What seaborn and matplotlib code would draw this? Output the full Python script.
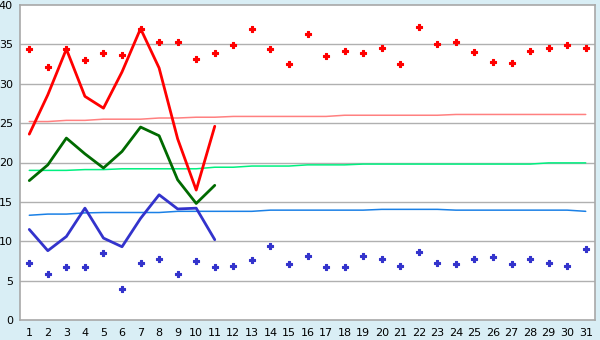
import numpy as np
import pandas as pd
import matplotlib
matplotlib.use("Agg")
import matplotlib.pyplot as plt
import seaborn as sns

days = list(range(1, 32))

max_temp = [23.6, 28.6, 34.4, 28.4, 26.9, 31.5, 37.0, 32.0, 23.0, 16.5, 24.6]
mean_temp = [17.7, 19.7, 23.1, 21.1, 19.3, 21.4, 24.5, 23.4, 17.8, 14.8, 17.1]
min_temp = [11.5, 8.8, 10.6, 14.2, 10.4, 9.3, 12.9, 15.9, 14.1, 14.2, 10.2]

record_high = [34.4, 32.1, 34.4, 33.0, 33.9, 33.6, 37.0, 35.3, 35.3, 33.1,
               33.9, 34.9, 37.0, 34.4, 32.5, 36.3, 33.5, 34.1, 33.9, 34.5,
               32.5, 37.2, 35.1, 35.3, 34.0, 32.7, 32.6, 34.1, 34.6, 34.9, 34.5]
record_low = [7.2, 5.8, 6.7, 6.7, 8.5, 3.9, 7.2, 7.8, 5.8, 7.5,
              6.7, 6.9, 7.6, 9.4, 7.1, 8.1, 6.7, 6.7, 8.1, 7.8,
              6.8, 8.6, 7.3, 7.1, 7.8, 8.0, 7.1, 7.7, 7.3, 6.9, 9.0]

avg_max = [25.2, 25.2, 25.35, 25.35, 25.5, 25.5, 25.5, 25.65, 25.65, 25.75,
           25.75, 25.85, 25.85, 25.85, 25.85, 25.85, 25.85, 26.0, 26.0, 26.0,
           26.0, 26.0, 26.0, 26.1, 26.1, 26.1, 26.1, 26.1, 26.1, 26.1, 26.1]
avg_mean = [19.0, 19.0, 19.0, 19.1, 19.1, 19.2, 19.2, 19.2, 19.2, 19.2,
            19.4, 19.4, 19.55, 19.55, 19.55, 19.7, 19.7, 19.7, 19.8, 19.8,
            19.8, 19.8, 19.8, 19.8, 19.8, 19.8, 19.8, 19.8, 19.95, 19.95, 19.95]
avg_min = [13.3, 13.45, 13.45, 13.6, 13.65, 13.65, 13.65, 13.65, 13.8, 13.8,
           13.8, 13.8, 13.8, 13.95, 13.95, 13.95, 13.95, 13.95, 13.95, 14.05,
           14.05, 14.05, 14.05, 13.95, 13.95, 13.95, 13.95, 13.95, 13.95, 13.95, 13.8]

y_ticks = [0, 5, 10, 15, 20, 25, 30, 35, 40]

sns.set_style("white")
plt.rcParams['font.family'] = ['DejaVu Sans']

bg = "#d9eef5"
fig = plt.figure(figsize=(6, 3.4), dpi=100, facecolor=bg)
ax = fig.add_axes([20/600, 20/340, 575/600, 315/340])
ax.set_facecolor("white")

obs = pd.DataFrame({"day": days[:len(max_temp)], "max": max_temp,
                    "mean": mean_temp, "min": min_temp})
full = pd.DataFrame({"day": days, "rh": record_high, "rl": record_low,
                     "amax": avg_max, "amean": avg_mean, "amin": avg_min})

for yv in y_ticks[1:-1]:
    ax.axhline(yv, color="#b0b0b0", lw=1, zorder=0)

sns.lineplot(data=full, x="day", y="amax", ax=ax, color="#ff8080", lw=1.1, zorder=2)
sns.lineplot(data=full, x="day", y="amean", ax=ax, color="#00f080", lw=1.1, zorder=2)
sns.lineplot(data=full, x="day", y="amin", ax=ax, color="#1a80e6", lw=1.1, zorder=2)

sns.lineplot(data=obs, x="day", y="max", ax=ax, color="#ff0000", lw=2, zorder=3)
sns.lineplot(data=obs, x="day", y="mean", ax=ax, color="#006a00", lw=2, zorder=3)
sns.lineplot(data=obs, x="day", y="min", ax=ax, color="#3333cc", lw=2, zorder=3)

sns.scatterplot(data=full, x="day", y="rh", ax=ax, color="#ff0000", marker="P",
                s=20, edgecolor="#ff0000", linewidth=0.8, zorder=4)
sns.scatterplot(data=full, x="day", y="rl", ax=ax, color="#3333cc", marker="P",
                s=20, edgecolor="#3333cc", linewidth=0.8, zorder=4)

ax.set_xlim(0.5, 31.5)
ax.set_ylim(0, 40)
ax.set_xticks(days)
ax.set_xticklabels([str(d) for d in days])
ax.set_yticks(y_ticks)
ax.set_xlabel("")
ax.set_ylabel("")
for s in ax.spines.values():
    s.set_color("#a8a8a8")
    s.set_linewidth(1.2)
ax.tick_params(axis="both", which="both", direction="out", length=4, width=1,
               color="#606060", labelsize=8, pad=2, labelcolor="#000000")
ax.tick_params(axis="y", pad=1)

fig.savefig("out.png", dpi=100, facecolor=bg)
